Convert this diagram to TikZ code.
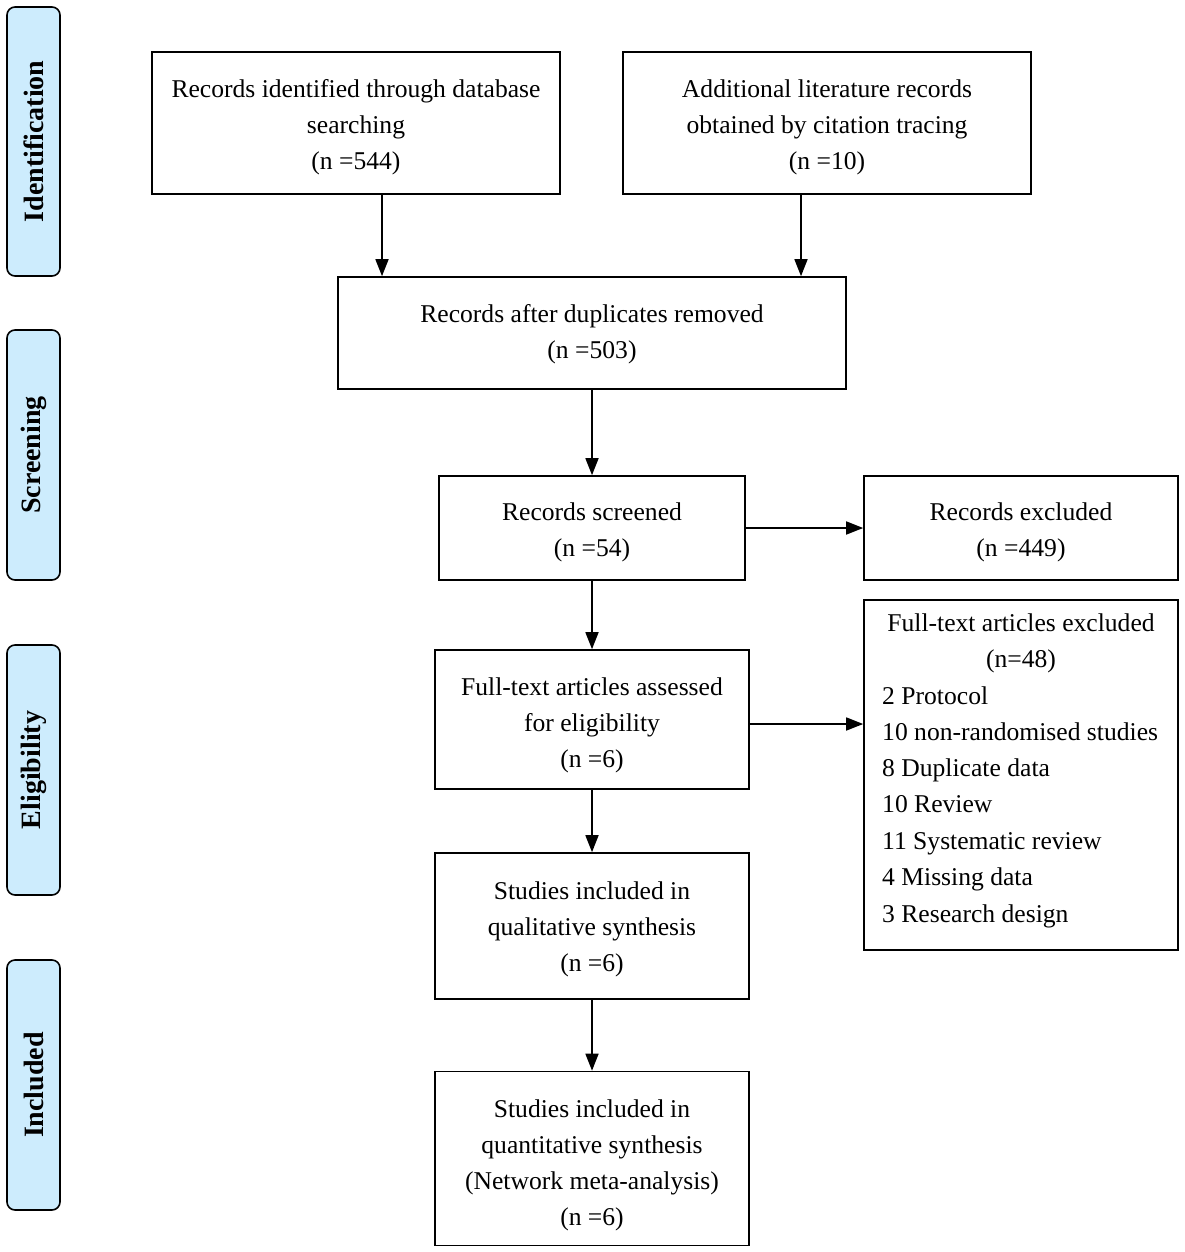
\documentclass[tikz,border=0pt]{standalone}
\usepackage{fontspec}
\setmainfont{Liberation Serif}
\usetikzlibrary{arrows.meta}
\definecolor{sidefill}{RGB}{205,236,253}
\begin{document}
\begin{tikzpicture}[x=1pt,y=-1pt,
  box/.style={draw,line width=1.6pt,inner sep=0pt},
  tx/.style={inner sep=0pt,align=center,font=\fontsize{25.6}{36}\selectfont},
  side/.style={draw,line width=1.6pt,rounded corners=8pt,fill=sidefill,inner sep=0pt},
  sidetext/.style={rotate=90,font=\fontsize{28}{30}\selectfont\bfseries},
  txt/.style={inner sep=0pt,anchor=base west,font=\fontsize{25.6}{36}\selectfont},
  arr/.style={line width=1.6pt,-{Triangle[width=13pt,length=17pt]}}]
\useasboundingbox (0,0) rectangle (1185,1252);
% side labels
\node[side,minimum width=53pt,minimum height=269pt] (sid) at (33.5,141.5) {};
\node[sidetext] (sidt) at (sid.center) {Identification};
\node[side,minimum width=53pt,minimum height=250pt] (ssc) at (33.5,455) {};
\node[sidetext] (ssct) at (ssc.center) {Screening};
\node[side,minimum width=53pt,minimum height=250pt] (sel) at (33.5,770) {};
\node[sidetext] (selt) at (sel.center) {Eligibility};
\node[side,minimum width=53pt,minimum height=250pt] (sin) at (33.5,1085) {};
\node[sidetext] (sint) at (sin.center) {Included};
% boxes
\node[box,minimum width=408pt,minimum height=142pt] (b1) at (356,123) {};
\node[box,minimum width=408pt,minimum height=142pt] (b2) at (827,123) {};
\node[box,minimum width=508pt,minimum height=112pt] (b3) at (592,333) {};
\node[box,minimum width=306pt,minimum height=104pt] (b4) at (592,528) {};
\node[box,minimum width=314pt,minimum height=104pt] (b5) at (1021,528) {};
\node[box,minimum width=314pt,minimum height=139pt] (b6) at (592,719.5) {};
\node[box,minimum width=314pt,minimum height=350pt] (b7) at (1021,775) {};
\node[box,minimum width=314pt,minimum height=146pt] (b8) at (592,926) {};
\node[box,minimum width=314pt,minimum height=174pt] (b9) at (592,1158.5) {};
% texts
\node[tx] (b1t) at ([yshift=-4pt]b1.center) {Records identified through database\\searching\\(n =544)};
\node[tx] (b2t) at ([yshift=-4pt]b2.center) {Additional literature records\\obtained by citation tracing\\(n =10)};
\node[tx] (b3t) at ([yshift=-1.5pt]b3.center) {Records after duplicates removed\\(n =503)};
\node[tx] (b4t) at ([yshift=-4pt]b4.center) {Records screened\\(n =54)};
\node[tx] (b5t) at ([yshift=-4pt]b5.center) {Records excluded\\(n =449)};
\node[tx] (b6t) at ([yshift=-6pt]b6.center) {Full-text articles assessed\\for eligibility\\(n =6)};
\node[tx] (b8t) at ([yshift=-3pt]b8.center) {Studies included in\\qualitative synthesis\\(n =6)};
\node[tx] (b9t) at ([yshift=-7pt]b9.center) {Studies included in\\quantitative synthesis\\(Network meta-analysis)\\(n =6)};
% text of excluded full-text box
\node[tx] (t7a) at (1021,643) {Full-text articles excluded\\(n=48)};
\node[txt] (t71) at (882,704) {2 Protocol};
\node[txt] (t72) at (882,740) {10 non-randomised studies};
\node[txt] (t73) at (882,776) {8 Duplicate data};
\node[txt] (t74) at (882,812) {10 Review};
\node[txt] (t75) at (882,849) {11 Systematic review};
\node[txt] (t76) at (882,885) {4 Missing data};
\node[txt] (t77) at (882,922) {3 Research design};
% arrows
\coordinate (c6) at (749,724);
\draw[arr] (b1.south -| 382,0) -- (b3.north -| 382,0);
\draw[arr] (b2.south -| 801,0) -- (b3.north -| 801,0);
\draw[arr] (b3) -- (b4);
\draw[arr] (b4) -- (b5);
\draw[arr] (b4) -- (b6);
\draw[arr] (c6) -- (b7.west |- c6);
\draw[arr] (b6) -- (b8);
\draw[arr] (b8) -- (b9);
\end{tikzpicture}
\end{document}
